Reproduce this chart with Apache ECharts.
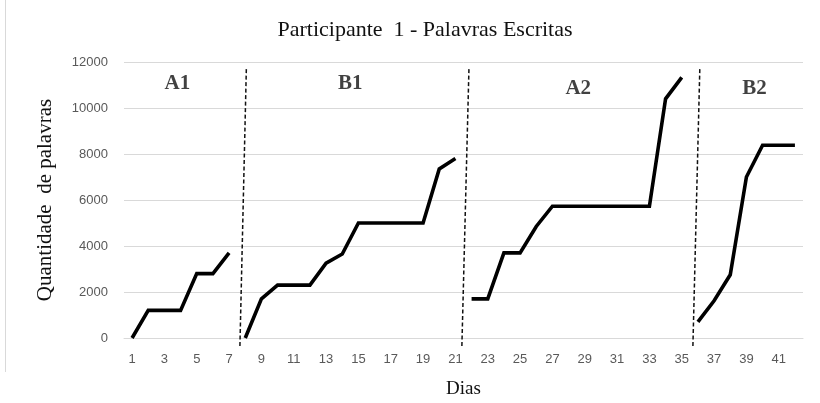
<!DOCTYPE html>
<html>
<head>
<meta charset="utf-8">
<script src="https://cdn.jsdelivr.net/npm/echarts@6/dist/echarts.min.js"></script>
<style>html,body{margin:0;padding:0;background:#fff}#c{width:820px;height:403px}</style>
</head>
<body>
<div id="c"></div>
<script>
// Days 1..42
const days = Array.from({length: 42}, (_, i) => String(i + 1));
// Phase values (words written, cumulative)
const phaseA1 = [0, 1200, 1200, 1200, 2800, 2800, 3700];                                   // days 1-7
const phaseB1 = [0, 1700, 2300, 2300, 2300, 3250, 3650, 5000, 5000, 5000, 5000, 5000, 7350, 7800]; // days 8-21
const phaseA2 = [1700, 1700, 3700, 3700, 4850, 5730, 5730, 5730, 5730, 5730, 5730, 5730, 10400, 11330]; // days 22-35
const phaseB2 = [700, 1620, 2750, 7000, 8380, 8380, 8380];                                 // days 36-42
const phaseStart = [1, 8, 22, 36];
const phaseNames = ['A1', 'B1', 'A2', 'B2'];
// Dashed phase dividers (day position at bottom / top, value at bottom / top)
const dividers = [
  [[7.67, -350], [8.07, 11780]],
  [[21.4, -350], [21.84, 11780]],
  [[35.69, -350], [36.12, 11780]]
];
const phaseLabelPos = [[3.8, 11050], [14.5, 11050], [28.6, 10850], [39.5, 10850]];
const yTicks = [0, 2000, 4000, 6000, 8000, 10000, 12000];

const phases = [phaseA1, phaseB1, phaseA2, phaseB2];
function fullSeries(vals, start) {
  const arr = new Array(days.length).fill(null);
  vals.forEach((v, i) => { arr[start - 1 + i] = v; });
  return arr;
}

const series = phases.map((vals, k) => ({
  type: 'line',
  data: fullSeries(vals, phaseStart[k]),
  symbol: 'none',
  connectNulls: false,
  lineStyle: { color: '#000', width: 3.6, join: 'miter' },
  z: 5,
  silent: true
}));

dividers.forEach(d => series.push({
  type: 'line',
  xAxisIndex: 1,
  data: d,
  symbol: 'none',
  clip: false,
  lineStyle: { color: '#111', width: 1.5, type: [4, 2.5] },
  z: 4,
  silent: true
}));

series.push({
  type: 'scatter',
  xAxisIndex: 1,
  symbolSize: 0,
  data: phaseLabelPos.map((p, i) => ({ value: p, name: phaseNames[i] })),
  label: {
    show: true, position: 'inside', formatter: p => p.name,
    fontFamily: 'Liberation Serif', fontWeight: 'bold', fontSize: 21, color: '#111'
  },
  silent: true
});

const chart = echarts.init(document.getElementById('c'), null, { renderer: 'canvas' });
chart.setOption({
  animation: false,
  backgroundColor: '#fff',
  title: {
    text: 'Participante  1 - Palavras Escritas',
    left: 420, top: 14, textAlign: 'center',
    textStyle: { fontFamily: 'Liberation Serif', fontWeight: 'normal', fontSize: 22, color: '#111' }
  },
  grid: { left: 124, right: 17, top: 62, bottom: 65, outerBoundsMode: 'none', containLabel: false },
  xAxis: [{
    type: 'category',
    data: days,
    boundaryGap: true,
    axisLine: { show: true, lineStyle: { color: '#d9d9d9' } },
    axisTick: { show: false },
    axisLabel: { interval: 1, color: '#595959', fontSize: 13, fontFamily: 'Liberation Sans', margin: 15 },
    name: 'Dias', nameLocation: 'middle', nameGap: 42,
    nameTextStyle: { fontFamily: 'Liberation Serif', fontSize: 19, color: '#111' }
  }, {
    type: 'value', min: 0.5, max: 42.5, show: false
  }],
  yAxis: {
    type: 'value', min: 0, max: 12000, interval: 2000,
    axisLine: { show: false }, axisTick: { show: false },
    splitLine: { lineStyle: { color: '#d9d9d9', width: 1 } },
    axisLabel: { color: '#595959', fontSize: 13, fontFamily: 'Liberation Sans', margin: 16,
      formatter: v => yTicks.includes(v) ? String(v) : '' },
    name: 'Quantidade  de palavras', nameLocation: 'middle', nameGap: 68, nameRotate: 90,
    nameTextStyle: { fontFamily: 'Liberation Serif', fontSize: 21, color: '#111' }
  },
  graphic: [{
    type: 'line', shape: { x1: 5.5, y1: 0, x2: 5.5, y2: 372 },
    style: { stroke: '#d9d9d9', lineWidth: 1 }
  }],
  series: series
});
</script>
</body>
</html>
